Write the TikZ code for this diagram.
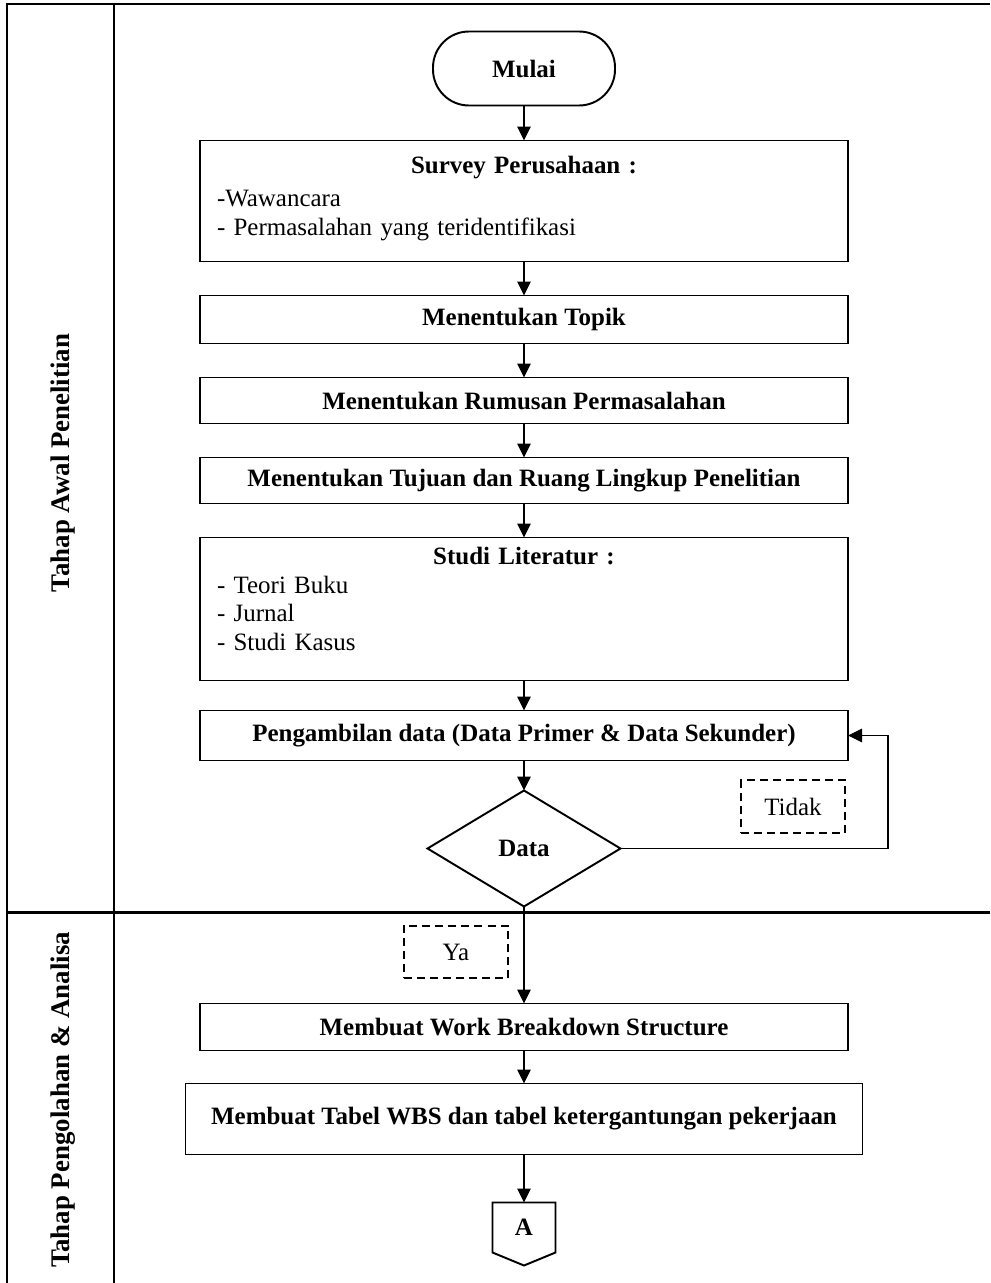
\documentclass[tikz,border=0pt]{standalone}
\usepackage{fontspec}
\setmainfont{Liberation Serif}
\usepackage{tikz}
\usetikzlibrary{positioning,shapes.geometric,arrows.meta,calc}
\newcommand{\fsz}{\fontsize{14.2}{16.2}\selectfont}
\tikzset{node distance=0.68cm, auto}
\tikzset{
  box/.style={draw, line width=1.1pt, minimum width=12.96cm, inner sep=0pt, outer sep=0pt, font=\fsz\bfseries},
  note/.style={draw, line width=1.1pt, dash pattern=on 0.16cm off 0.1cm, minimum width=2.08cm, minimum height=1.05cm, outer sep=0pt, font=\fsz},
  lane/.style={rotate=90, font=\fontsize{15.3}{17}\selectfont\bfseries},
  arr/.style={-{Triangle[length=0.28cm,width=0.27cm]}, line width=0.6pt},
  frame/.style={line width=1.7pt},
}

\begin{document}
\begin{tikzpicture}
	\useasboundingbox (0,0) rectangle (19.8,-25.66);
	% swimlane frame
	\draw[frame] (19.8,-0.08) -- (0.14,-0.08) -- (0.14,-25.66);
	\draw[frame] (2.28,-0.08) -- (2.28,-25.66);
	\draw[frame] (0.14,-18.24) -- (19.8,-18.24);
	\node[lane](lane1) at (1.26,-9.26){Tahap Awal Penelitian};
	\node[lane](lane2) at (1.26,-22.0){Tahap Pengolahan \& Analisa};
	% flow
	\node[draw, line width=1.1pt, outer sep=0pt, rounded corners=0.72cm, minimum width=3.64cm, minimum height=1.48cm, font=\fsz\bfseries](mulai) at (10.48,-1.37){Mulai};
	\node[box, minimum height=2.42cm, text width=12.28cm, inner xsep=0.34cm, below=0.7cm of mulai](survey){{\centering Survey Perusahaan :\par}\vspace{0.1cm}\raggedright\mdseries -Wawancara\\- Permasalahan yang teridentifikasi\par\vspace{0.1cm}\hrule height 0pt};
	\node[box, minimum height=0.96cm, below=of survey](topik){Menentukan Topik};
	\node[box, minimum height=0.92cm, below=of topik](rumusan){Menentukan Rumusan Permasalahan};
	\node[box, minimum height=0.92cm, below=of rumusan](tujuan){Menentukan Tujuan dan Ruang Lingkup Penelitian};
	\node[box, minimum height=2.86cm, text width=12.28cm, inner xsep=0.34cm, below=of tujuan](studi){{\centering Studi Literatur :\par}\raggedright\mdseries - Teori Buku\\- Jurnal\\- Studi Kasus\par\vspace{0.4cm}\hrule height 0pt};
	\node[box, minimum height=1.0cm, below=0.6cm of studi](ambil){Pengambilan data (Data Primer \& Data Sekunder)};
	\node[diamond, draw, line width=1.1pt, outer sep=0pt, aspect=1.66, minimum width=3.86cm, minimum height=2.32cm, inner sep=0pt, font=\fsz\bfseries, below=0.6cm of ambil](data){Data};
	\node[note](tidak) at (15.86,-16.13){Tidak};
	\node[note](ya) at (9.12,-19.04){Ya};
	\node[box, minimum height=0.94cm, below=1.94cm of data](wbs){Membuat Work Breakdown Structure};
	\node[box, minimum width=13.54cm, minimum height=1.42cm, below=0.66cm of wbs](tabel){Membuat Tabel WBS dan tabel ketergantungan pekerjaan};
	\node[minimum width=1.26cm, minimum height=1.0cm, inner sep=0pt, outer sep=0pt, font=\fsz\bfseries, below=0.96cm of tabel](A){A};
	\draw[line width=1.1pt](A.north west) -- (A.north east) -- (A.south east) -- ($(A.south)+(0,-0.26)$) -- (A.south west) -- cycle;
	\coordinate(balik) at ($(ambil.east)+(0.8,0)$);
	\draw[arr](mulai) to (survey);
	\draw[arr](survey) to (topik);
	\draw[arr](topik) to (rumusan);
	\draw[arr](rumusan) to (tujuan);
	\draw[arr](tujuan) to (studi);
	\draw[arr](studi) to (ambil);
	\draw[arr](ambil) to (data);
	\draw[arr](data.east) -| (balik) -- (ambil.east);
	\draw[arr](data) to (wbs);
	\draw[arr](wbs) to (tabel);
	\draw[arr](tabel) to (A.north);
\end{tikzpicture}
\end{document}
